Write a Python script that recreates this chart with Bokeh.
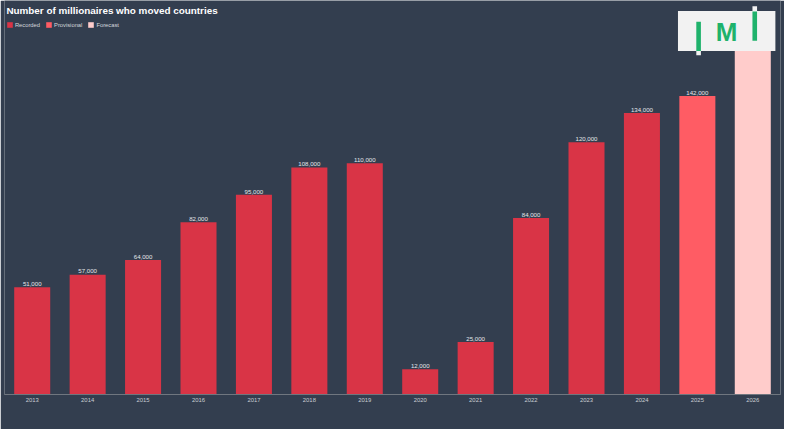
from bokeh.plotting import figure
from bokeh.models import ColumnDataSource, Label, BoxAnnotation, FactorRange, Legend, LegendItem
from bokeh.core.properties import value
from bokeh.embed import file_html
from bokeh.resources import INLINE

# ---- data ----
years = ["2013", "2014", "2015", "2016", "2017", "2018", "2019",
         "2020", "2021", "2022", "2023", "2024", "2025", "2026"]
millionaires = [51000, 57000, 64000, 82000, 95000, 108000, 110000,
                12000, 25000, 84000, 120000, 134000, 142000, 165000]
status = ["Recorded"] * 12 + ["Provisional", "Forecast"]
legend_order = ["Recorded", "Provisional", "Forecast"]
status_colors = {"Recorded": "#d93446", "Provisional": "#ff5c64", "Forecast": "#ffcccb"}
title_text = "Number of millionaires who moved countries"
footer_text = ("Chart: IMI (imidaily.com) \u2022 Source: Henley & Partners/New World Wealth "
               "\u2022 Created with Datawrapper")

BG = "#333e4f"
FONT = "Liberation Sans"
W, H = 784, 429
FL, FR, FT, FB = 4, 4, 0, 35
FH = H - FT - FB
SX, SY = 0.98, 0.964  # reference px -> figure px

def sx(X):
    return X * SX - FL

def sy(Y):
    return FH - (Y * SY - FT)

labels = [f"{v:,}" for v in millionaires]
source = ColumnDataSource(dict(year=years, value=millionaires, status=status,
                               color=[status_colors[s] for s in status], label=labels))

p = figure(width=W, height=H, x_range=FactorRange(*years, range_padding=0),
           y_range=(0, 187500), output_backend="svg", toolbar_location=None,
           y_axis_location=None, title=None,
           min_border_left=FL, min_border_right=FR, min_border_top=FT, min_border_bottom=FB)
p.background_fill_color = BG
p.border_fill_color = BG
p.outline_line_color = None
p.grid.visible = False

bars = p.vbar(x="year", top="value", width=0.65, source=source, fill_color="color",
              line_color=None)

p.text(x="year", y="value", text="label", source=source, text_align="center",
       text_baseline="alphabetic", y_offset=-3.3, text_font=value(FONT),
       text_font_size="6.1px", text_color="#e4e6ea")

ax = p.xaxis[0]
ax.axis_line_color = "#70767f"
ax.axis_line_width = 1
ax.major_tick_line_color = None
ax.major_tick_out = 0
ax.major_tick_in = 0
ax.minor_tick_line_color = None
ax.minor_tick_out = 0
ax.major_label_standoff = 3
ax.major_label_text_font = FONT
ax.major_label_text_font_size = "5.9px"
ax.major_label_text_color = "#c9ccd2"

items = [LegendItem(label=s, renderers=[bars], index=status.index(s)) for s in legend_order]
lg = Legend(items=items, orientation="horizontal", location=(sx(6), sy(29.2)),
            margin=0, padding=0, spacing=5, glyph_width=7, glyph_height=7,
            label_height=7, label_standoff=2, label_text_font=FONT,
            label_text_font_size="5.8px", label_text_color="#d5d8dd",
            border_line_color=None, background_fill_alpha=0)
p.add_layout(lg, "center")

p.add_layout(Label(x=sx(6), y=sy(14) + 3.5, x_units="screen", y_units="screen", text=title_text,
                   text_font=FONT, text_font_style="bold", text_font_size="9.9px",
                   text_color="#ffffff", text_baseline="alphabetic"))
p.add_layout(Label(x=sx(6), y=sy(435.3) + 3, x_units="screen", y_units="screen", text=footer_text,
                   text_font=FONT, text_font_size="5.1px", text_color="#a9afb8",
                   text_baseline="alphabetic"))

# ---- logo ----
LOGO_BG = "#f2f2f2"
GREEN = "#1fb26b"

def box(X0, X1, Y0, Y1, color):
    p.add_layout(BoxAnnotation(left=sx(X0), right=sx(X1), top=sy(Y0), bottom=sy(Y1),
                               left_units="screen", right_units="screen",
                               top_units="screen", bottom_units="screen",
                               fill_color=color, fill_alpha=1, line_color=None))

box(691.3, 790.7, 11, 52.3, LOGO_BG)
box(710, 714.7, 52.3, 56.7, LOGO_BG)
box(710, 714.7, 22, 52.3, GREEN)
box(767.3, 772, 6, 11.5, LOGO_BG)
box(767.3, 772, 11.5, 41.7, GREEN)
p.add_layout(Label(x=sx(741), y=sy(41.7) + 9, x_units="screen", y_units="screen", text="M",
                   text_font=FONT, text_font_style="bold", text_font_size="26px",
                   text_color=GREEN, text_align="center", text_baseline="alphabetic"))

open("out.html", "w").write(file_html(p, INLINE))
